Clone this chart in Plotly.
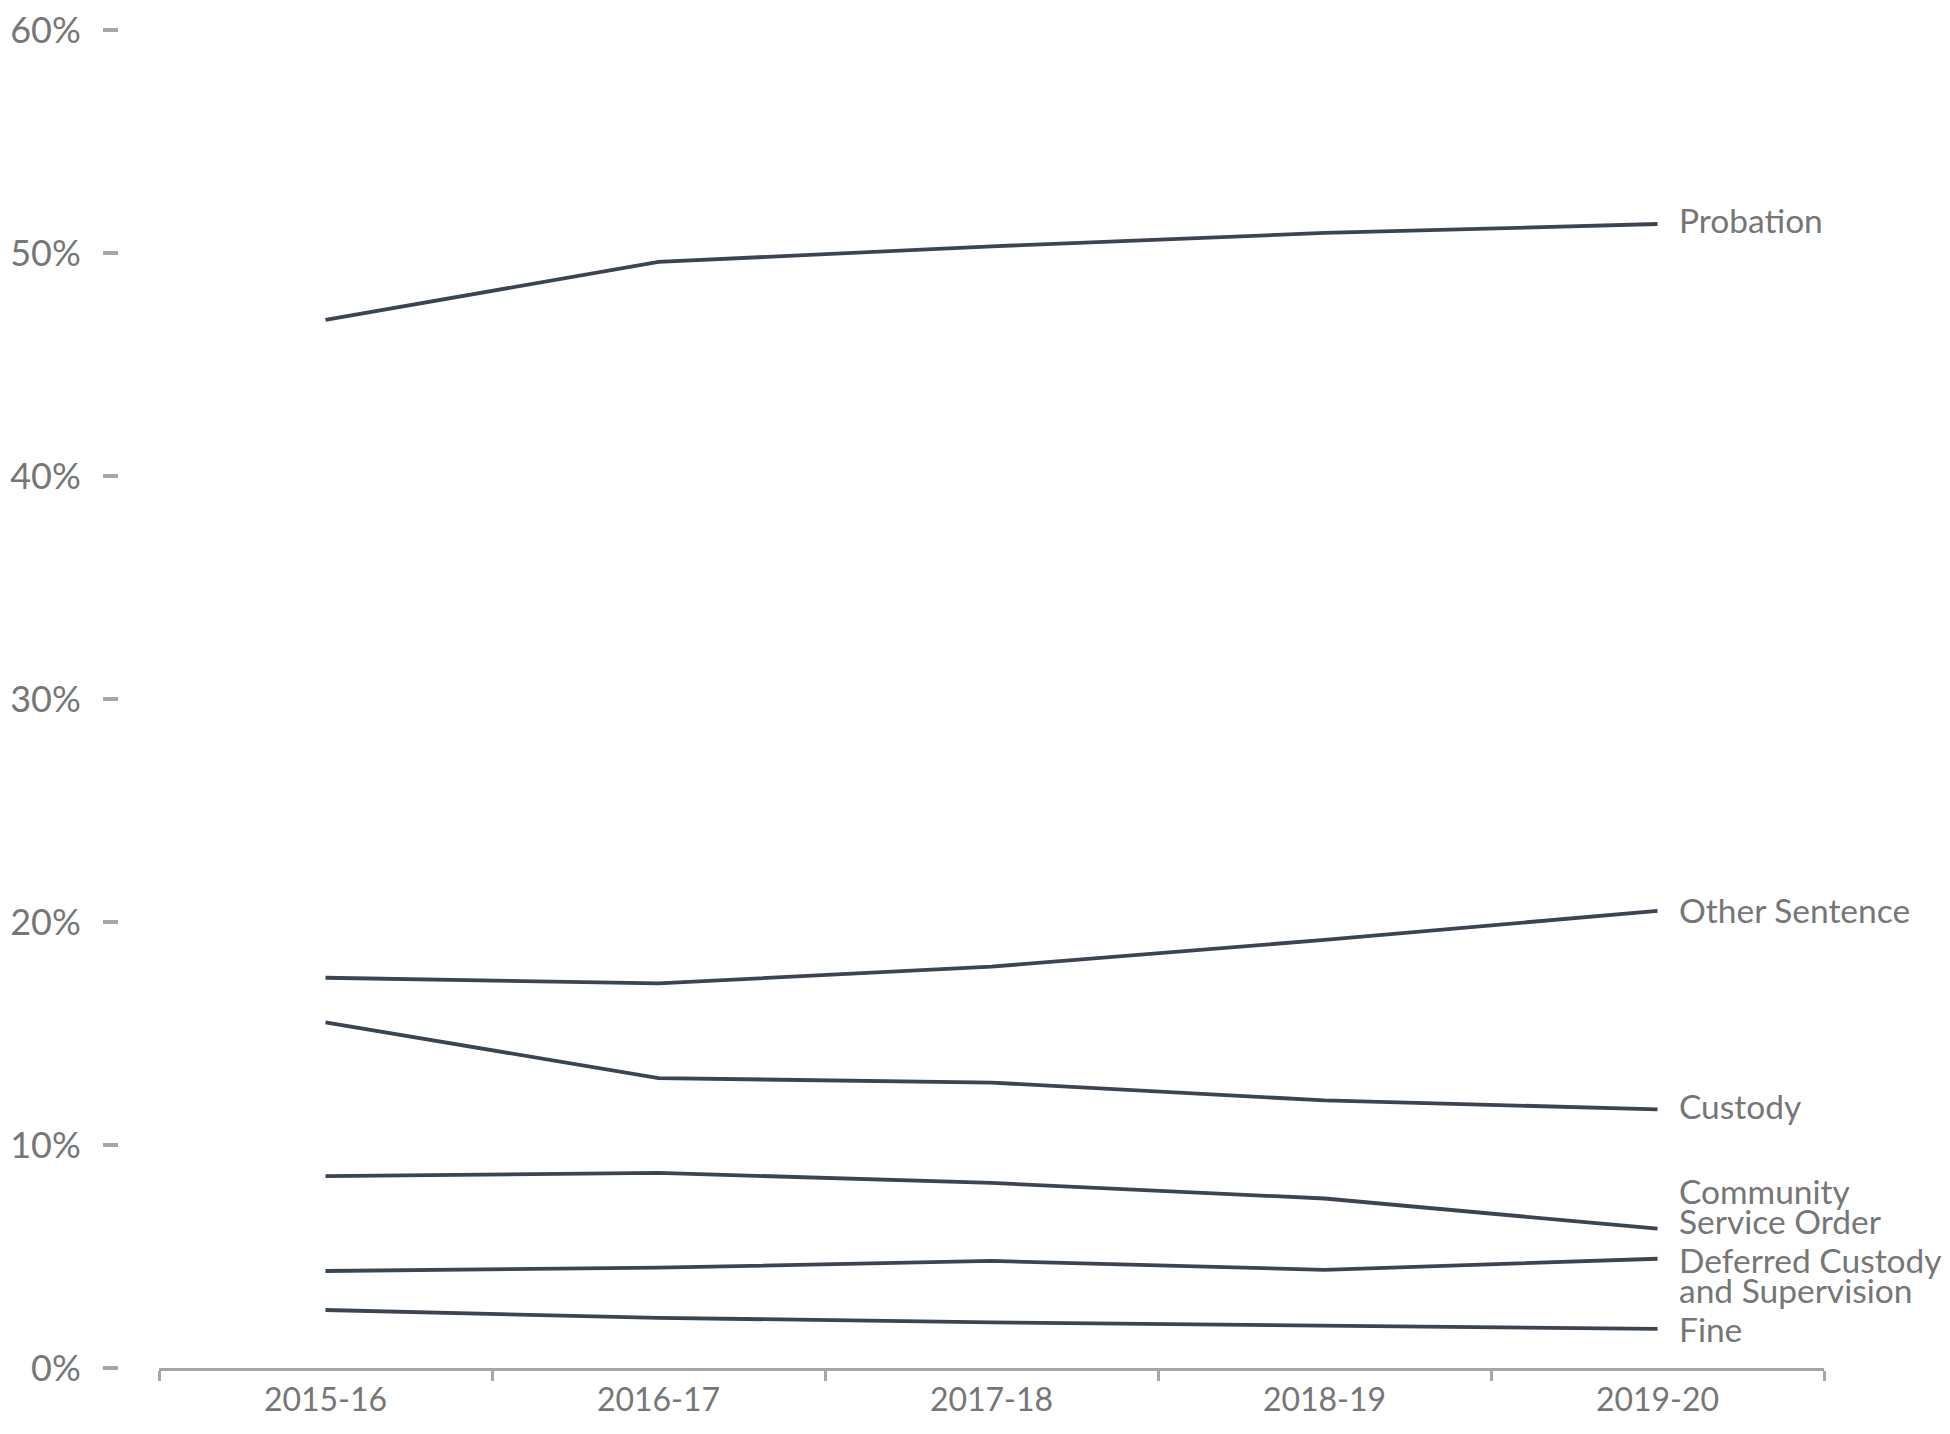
import plotly.graph_objects as go

years = ["2015-16", "2016-17", "2017-18", "2018-19", "2019-20"]
probation = [47.0, 49.6, 50.3, 50.9, 51.3]
other_sentence = [17.5, 17.25, 18.0, 19.2, 20.5]
custody = [15.5, 13.0, 12.8, 12.0, 11.6]
community_service = [8.6, 8.75, 8.3, 7.6, 6.25]
deferred_custody = [4.35, 4.5, 4.8, 4.4, 4.9]
fine = [2.6, 2.25, 2.05, 1.9, 1.75]

series = [
    ("Probation", probation, [("Probation", 4)]),
    ("Other Sentence", other_sentence, [("Other Sentence", 1)]),
    ("Custody", custody, [("Custody", 3)]),
    ("Community Service Order", community_service, [("Community", 38), ("Service Order", 8)]),
    ("Deferred Custody and Supervision", deferred_custody, [("Deferred Custody", -1), ("and Supervision", -31)]),
    ("Fine", fine, [("Fine", 0)]),
]

y_ticks = [0, 10, 20, 30, 40, 50, 60]
y_tick_labels = ["0%", "10%", "20%", "30%", "40%", "50%", "60%"]

LINE = "#3A4452"
TEXT = "#767676"
AXIS = "#A6A6A6"
FONT = "Lato"

fig = go.Figure()
annotations = []
for name, vals, labels in series:
    fig.add_trace(go.Scatter(x=years, y=vals, mode="lines", name=name,
                             line=dict(color=LINE, width=3.8), showlegend=False))
    for text, dy in labels:
        annotations.append(dict(x=years[-1], y=vals[-1], xref="x", yref="y",
                                text=text, showarrow=False, xanchor="left",
                                yanchor="middle", xshift=19, yshift=dy,
                                font=dict(family=FONT, size=33.5, color=TEXT)))

# page has 8px body margin; compensate
W, H = 1942, 1426
ml, mr, mt, mb = 110, 126, 22, 66
pw = W - ml - mr
fig.update_layout(
    width=W, height=H,
    margin=dict(l=ml, r=mr, t=mt, b=mb),
    paper_bgcolor="white", plot_bgcolor="white",
    annotations=annotations,
    xaxis=dict(domain=[41 / pw, 1], type="category", range=[-0.5, 4.5],
               automargin=False,
               showgrid=False, zeroline=False,
               showline=True, linecolor=AXIS, linewidth=3,
               ticks="outside", tickson="boundaries", ticklen=10, tickwidth=3,
               tickcolor=AXIS, ticklabelstandoff=2,
               tickfont=dict(family=FONT, size=32, color=TEXT)),
    yaxis=dict(range=[0, 60], anchor="free", position=0, automargin=False,
               tickvals=y_ticks, ticktext=y_tick_labels,
               ticklabeloverflow="allow",
               showgrid=False, zeroline=False, showline=False,
               ticks="outside", ticklen=15, tickwidth=4, tickcolor=AXIS,
               ticklabelstandoff=15,
               tickfont=dict(family=FONT, size=36, color=TEXT)),
)

fig.write_html("out.html")
